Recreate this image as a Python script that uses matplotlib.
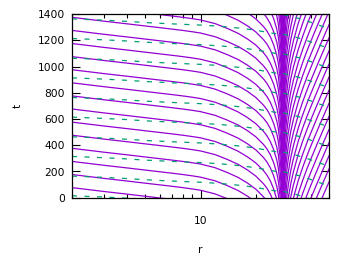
import matplotlib
matplotlib.use("Agg")
import matplotlib.pyplot as plt
from matplotlib.ticker import FixedLocator, NullFormatter, FuncFormatter

plt.rcParams["font.family"] = ["DejaVu Sans"]

PURPLE = "#9400D3"
GREEN = "#009E73"

# left family of solid curves (inside the horizon): shape,
# t relative to the value at r = 2
left_r = [2, 3, 4, 5, 6, 7, 8, 9, 10, 12, 14, 16, 18, 20, 22, 23, 24, 25, 26,
          26.5, 27, 27.4, 27.7, 27.85, 27.93, 27.97, 27.99, 27.995]
left_dt = [0, -30, -50, -66, -79, -90, -100, -110, -120, -148, -185, -222,
           -265, -312, -370, -405, -450, -510, -590, -650, -750, -860, -1000,
           -1160, -1330, -1530, -1800, -1970]
# value of t at r = 2 for every curve
left_t0 = [77, 177, 277, 377, 477, 577, 677, 777, 877, 977, 1077, 1177, 1277,
           1377, 1477, 1577, 1677, 1777, 1877, 1977, 2077, 2177, 2277, 2377,
           2477, 2577, 2677, 2777, 2877, 2977, 3077, 3177, 3277, 3377]

# right family of solid curves (outside the horizon), t relative to r = 50
right_r = [28.01, 28.03, 28.1, 28.3, 28.6, 29, 29.5, 30, 31, 32, 34, 36, 38,
           40, 42, 44, 46, 48, 50]
right_dt = [-2259, -1990, -1694, -1421, -1246, -1114, -1007, -928, -811, -724,
            -590, -486, -397, -319, -247, -180, -117, -57, 0]
right_t0 = [120, 220, 320, 420, 520, 620, 720, 820, 920, 1020, 1120, 1220,
            1320, 1420, 1520, 1620, 1720, 1820, 1920, 2020, 2120, 2220, 2320,
            2420, 2520, 2620, 2720, 2820, 2920, 3020, 3120, 3220, 3320, 3420,
            3520, 3620]

# dashed lines, left of the horizon (t relative to r = 2)
dash_l_r = [2, 3, 4, 5, 7, 10, 13, 17, 20, 23, 26, 28]
dash_l_dt = [0, -10, -19, -28, -38, -47, -57, -73, -87, -102, -115, -123]
dash_l_t0 = [15, 165, 315, 465, 615, 765, 915, 1065, 1215, 1365]

# dashed lines, right of the horizon (t relative to r = 32)
dash_r_r = [28.2, 32, 37, 42, 47.7, 50]
dash_r_dt = [18, 0, -25, -53, -80, -91]
dash_r_t0 = [30, 180, 330, 480, 630, 780, 930, 1080, 1230, 1380]

fig = plt.figure(figsize=(3.5, 2.62), dpi=100)
ax = fig.add_axes([72 / 350, 64.3 / 262, 257 / 350, 183.4 / 262])

for c in left_t0:
    ax.plot(left_r, [c + d for d in left_dt], color=PURPLE, lw=0.9)
for c in right_t0:
    ax.plot(right_r, [c + d for d in right_dt], color=PURPLE, lw=0.9)
for c in dash_l_t0:
    ax.plot(dash_l_r, [c + d for d in dash_l_dt], color=GREEN, lw=0.9,
            linestyle=(0, (4, 6)))
for c in dash_r_t0:
    ax.plot(dash_r_r, [c + d for d in dash_r_dt], color=GREEN, lw=0.9,
            linestyle=(0, (4, 6)))

ax.set_xscale("log")
ax.set_xlim(2, 50)
ax.set_ylim(0, 1400)
ax.xaxis.set_major_locator(FixedLocator([10]))
ax.xaxis.set_minor_locator(FixedLocator([2, 3, 4, 5, 6, 7, 8, 9, 20, 30, 40, 50]))
ax.xaxis.set_major_formatter(FuncFormatter(lambda v, p: "%d" % v))
ax.xaxis.set_minor_formatter(NullFormatter())
ax.set_yticks(range(0, 1401, 200))

ax.tick_params(which="both", direction="in", top=True, right=True,
               labelsize=7.7, width=0.8)
ax.tick_params(which="major", length=5.5)
ax.tick_params(which="minor", length=2.8)
ax.tick_params(axis="x", which="major", pad=13)
ax.tick_params(axis="y", which="major", pad=5)
for s in ax.spines.values():
    s.set_linewidth(0.9)

ax.set_xlabel("r", fontsize=7.7, labelpad=14)
ax.set_ylabel("t", fontsize=7.7, labelpad=11)

fig.savefig("out.png", dpi=100)
